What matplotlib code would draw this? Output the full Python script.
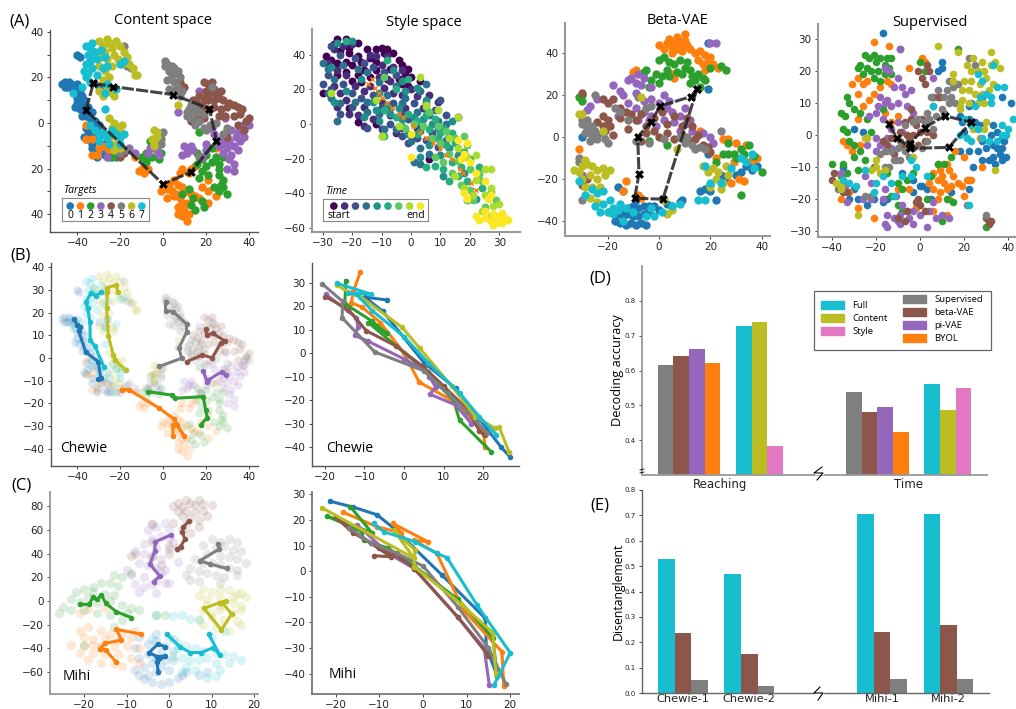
import matplotlib
matplotlib.use("Agg")
import matplotlib.pyplot as plt
from matplotlib.lines import Line2D
from matplotlib.patches import Patch, Rectangle

plt.rcParams['font.family'] = ['DejaVu Sans']
W, H = 1016, 709

tab = ['#1f77b4', '#ff7f0e', '#2ca02c', '#9467bd', '#8c564b', '#7f7f7f', '#bcbd22', '#17becf']
pink = '#e377c2'
time_cols = ['#440154', '#472d7b', '#3b528b', '#2c728e', '#21908c', '#27ad81', '#5ec962', '#addc30', '#fde725']

# ---- content space (used in A and B), one list per target
content = [
    [(-47,17),(-46,18),(-45,16),(-44,18),(-43,17),(-42,15),(-41,16),(-40,17),(-44,16),(-46,16),(-41,13),(-39,14),(-40,11),(-38,12),(-40,9),(-38,8),(-37,10),(-41,7),(-39,6),(-37,5),(-35,7),(-33,5),(-36,3),(-38,3),(-34,2),(-32,1),(-30,-1),(-33,-1),(-36,-2),(-35,-5),(-33,-4),(-30,-6),(-28,-9),(-26,-11),(-29,-11),(-27,-14),(-25,-15),(-24,-12),(-31,-13),(-33,-9),(-37,-6),(-22,-15),(-30,16),(-27,14),(-26,17),(-40,30),(-39,29),(-36,-7),(-33,-11),(-31,-15)],
    [(0,-28),(2,-29),(4,-30),(3,-27),(5,-25),(7,-27),(9,-28),(11,-30),(13,-31),(15,-32),(17,-33),(6,-31),(8,-33),(9,-35),(7,-37),(11,-35),(10,-38),(12,-40),(9,-41),(11,-43),(7,-40),(5,-32),(2,-33),(-1,-30),(8,-22),(9,-20),(12,-22),(13,-20),(15,-19),(21,-25),(21,-30),(25,-32),(-10,-20),(-9,-22),(-11,-21),(-7,-20),(-13,-15),(-36,-1),(-36,-7),(-33,-7),(-30,-11),(-33,-14),(-28,-10),(-25,-12),(-31,-14),(18,-28),(21,-35),(25,-11)],
    [(16,-13),(18,-16),(20,-14),(23,-11),(25,-15),(16,-18),(18,-21),(20,-19),(23,-17),(26,-18),(28,-15),(17,-24),(21,-23),(26,-23),(28,-25),(24,-28),(26,-30),(28,-28),(26,-20),(12,-29),(14,-33),(18,-34),(19,-37),(15,-38),(13,-36),(9,-31),(-1,-13),(-4,-11),(-7,-14),(-8,-13),(-10,-15),(-2,-16),(-5,-15),(-8,-17),(-24,-15),(17,-4),(39,0),(30,-31),(27,-27),(-6,-8)],
    [(24,-5),(27,-7),(29,-5),(32,-3),(35,-4),(38,-1),(40,-1),(37,-3),(34,-6),(31,-8),(28,-9),(26,-10),(30,-11),(33,-10),(36,-8),(28,-13),(32,-14),(35,-12),(38,-6),(33,-18),(31,-16),(30,-20),(33,-21),(10,-10),(12,-12),(11,-13),(14,-12),(13,-10),(9,-14),(18,-15),(20,-12),(17,1),(17,14),(7,5),(20,-9),(-16,-11),(-13,-13),(-6,-11),(-3,-12),(-7,-13),(-2,-14),(-26,-15),(29,2),(23,-2)],
    [(19,18),(21,17),(23,18),(24,15),(20,14),(22,13),(25,13),(27,14),(17,12),(19,11),(16,9),(14,10),(18,8),(21,10),(24,10),(26,11),(28,10),(31,9),(33,8),(35,7),(37,6),(30,7),(27,6),(24,7),(21,6),(18,6),(16,3),(19,2),(26,3),(29,3),(33,3),(36,4),(39,1),(40,2),(35,-1),(13,1),(10,16),(8,18),(-18,-13),(-20,-15),(-4,-7),(-31,-4),(30,-6),(38,-3)],
    [(1,27),(1,25),(2,26),(3,23),(4,25),(5,24),(6,22),(7,23),(8,20),(4,21),(5,18),(2,19),(6,17),(3,15),(5,14),(7,16),(9,14),(8,12),(11,5),(12,6),(14,4),(13,8),(15,7),(17,5),(11,3),(13,2),(15,-1),(17,1),(19,4),(22,-1),(25,0),(23,16),(19,-2),(-18,34),(-17,25),(-15,24),(-1,-5),(0,-4),(-1,-7),(-20,-13),(-17,-12),(-1,-9),(20,-3),(30,-2),(28,-5),(17,-15)],
    [(-30,36),(-28,34),(-26,37),(-25,35),(-24,33),(-27,31),(-29,29),(-26,28),(-23,30),(-22,36),(-20,34),(-18,31),(-21,28),(-19,26),(-17,29),(-16,26),(-24,25),(-27,23),(-30,25),(-32,31),(-14,24),(-13,21),(-12,21),(-25,20),(-28,19),(-26,15),(-28,12),(-24,13),(-23,12),(-30,14),(-25,2),(-23,0),(-24,-2),(-21,-2),(-20,-4),(-19,-1),(-22,-5),(-25,-7),(-22,-9),(-20,-11),(-23,-12),(-3,-6),(-5,-7),(-4,-9),(-4,-10),(-3,-4),(7,8),(-4,-3)],
    [(-36,34),(-34,33),(-33,35),(-32,31),(-35,30),(-33,29),(-31,28),(-36,26),(-34,27),(-29,32),(-27,29),(-26,25),(-20,26),(-18,27),(-37,23),(-35,22),(-33,24),(-36,20),(-34,18),(-38,16),(-31,21),(-28,24),(-26,17),(-22,15),(-27,13),(-27,6),(-42,13),(-34,-1),(-32,-3),(-30,-5),(-28,-4),(-26,-6),(-24,-3),(-22,-5),(-20,-6),(-18,-5),(-20,-9),(-30,-8),(-25,-9)],
]
content_traj = [(-32.5,17.5),(-23.5,16),(4.5,12.5),(21.7,6.3),(25,-7.7),(13,-21.5),(0,-26.8),(-36,5.6),(-32.5,17.5)]

# ---- style space, one list per time bin
style = [
    [(-25,49),(-22,49),(-26,46),(-21,44),(-18,47),(-24,42),(-21,41),(-18,39),(-15,43),(-12,43),(-10,44),(-8,43),(-9,41),(-6,41),(-4,37),(-3,34),(-1,32),(-2,29),(0,27),(-29,39),(-27,37),(-25,35),(-22,36),(-20,34),(-17,36),(-14,38),(-12,36),(-22,30),(-25,28),(-18,28),(-16,31),(-20,25),(-17,24),(-14,27),(-4,26),(-3,23),(-1,22),(3,25),(-30,18),(-21,9),(-18,1),(-12,0),(-7,5),(6,-20),(16,4),(-7,32),(-12,31),(-8,26)],
    [(-26,43),(-23,45),(-20,46),(-14,40),(-12,39),(-8,39),(-10,34),(-6,33),(-3,31),(-28,35),(-25,31),(-22,28),(-19,22),(-16,19),(-14,22),(-11,27),(-9,21),(-7,25),(-6,18),(-3,17),(0,20),(2,16),(6,17),(-26,22),(-24,18),(-22,14),(-25,10),(-21,6),(-18,5),(-16,-1),(-13,3),(-10,-3),(-5,-5),(-3,-2),(2,-2),(-2,9),(4,9),(9,13),(-16,10),(-10,13)],
    [(-27,45),(-24,40),(-19,38),(-16,35),(-13,33),(-9,30),(-5,28),(-28,28),(-30,23),(-27,20),(-23,23),(-20,18),(-17,15),(-13,17),(-10,10),(-6,12),(-3,6),(1,12),(5,12),(8,8),(10,14),(12,5),(-7,0),(-3,-7),(-1,-11),(2,-8),(5,-9),(7,-5),(9,-13),(-24,6),(-20,10),(-15,-2),(-1,3)],
    [(-28,32),(-26,26),(-23,34),(-18,32),(-30,35),(-27,15),(-24,12),(-28,18),(-15,30),(-11,24),(-8,17),(-5,22),(-2,15),(3,19),(5,23),(-19,13),(-15,7),(-11,6),(-7,9),(-3,12),(2,7),(6,5),(9,2),(12,0),(-9,-3),(-5,-3),(0,-10),(3,-14),(6,-17),(1,-22),(3,-23),(9,-2),(12,-9),(-25,2),(-15,13)],
    [(-25,47),(-20,48),(-27,33),(-22,19),(-26,13),(-17,26),(-13,13),(-11,18),(-8,11),(-4,9),(-2,19),(2,21),(5,14),(-16,4),(-12,8),(-7,6),(-3,3),(1,4),(4,3),(7,0),(10,-3),(13,-7),(-1,-6),(3,-4),(6,-12),(10,-18),(13,-14),(16,-18),(-6,31),(-11,2),(3,-19),(11,-30),(18,-28),(22,-43),(-3,25),(14,2)],
    [(-22,48),(-8,37),(-5,20),(-1,26),(-9,8),(-5,4),(-1,6),(2,2),(5,5),(8,3),(11,-2),(14,-5),(-3,-1),(2,-6),(6,-3),(9,-8),(12,-12),(15,-11),(18,-16),(8,-24),(11,-26),(14,-22),(17,-25),(20,-20),(13,-33),(16,-30),(19,-33),(23,-25),(24,-37),(19,-44),(-9,-7),(5,-25),(10,-5)],
    [(-9,27),(-2,-2),(1,0),(4,-1),(6,7),(9,-1),(12,-4),(15,-8),(7,-8),(10,-11),(13,-17),(16,-21),(19,-12),(20,-26),(23,-29),(8,-19),(11,-22),(14,-28),(17,-35),(20,-38),(24,-33),(27,-39),(29,-44),(25,-48),(21,-44),(-10,-7),(5,10),(18,-7)],
    [(-27,18),(-12,14),(3,27),(5,11),(9,8),(-4,-1),(16,4),(-10,-7),(13,-8),(16,-14),(19,-19),(22,-18),(25,-26),(27,-26),(22,-32),(25,-41),(28,-47),(18,-39),(21,-41),(24,-50),(27,-53),(30,-46),(15,-30),(18,-37),(27,-37)],
    [(0,-6),(0,-19),(16,-9),(19,-11),(17,-20),(18,-17),(22,-28),(25,-33),(18,-40),(19,-43),(27,-41),(22,-53),(25,-50),(28,-52),(30,-55),(32,-54),(27,-56),(29,-57),(31,-57),(33,-55),(29,-53),(31,-51),(25,-54),(23,-55),(31,-56),(26,-43),(20,-22),(28,-58)],
]
style_trace = [(-14.6,23),(-13.4,26),(-12.3,21),(-11,18),(-10,15),(-8,12),(-6.3,9.4),(-4,6),(-2.7,4),(0.7,-1.3),(3,-4.6),(5.2,-8),(7.5,-11),(9.7,-14),(12,-17.7),(14,-20),(16.5,-26),(17.6,-28),(20.5,-34),(22,-38)]

# ---- beta-VAE
beta = [
    [(-17,-40),(-15,-41),(-13,-42),(-11,-41),(-9,-42),(-7,-41),(-5,-42),(-14,-38),(-12,-37),(-10,-38),(-8,-38),(-6,-37),(-4,-36),(-10,-33),(-8,-34),(-6,-33),(-4,-33),(-2,-33),(0,-35),(-12,-34),(-14,-36),(-16,-37),(-9,-30),(-14,-26),(-16,-24),(3,-32),(5,-33),(8,-31),(9,-30),(18,-25),(20,-26),(16,-26),(24,-18),(26,-20),(30,-18),(32,-17),(34,-14),(36,-16),(38,-14),(35,-12),(-30,0),(19,-8),(20,-23),(22,-30),(19,23),(19,45)],
    [(0,44),(2,42),(3,45),(4,47),(5,43),(6,45),(7,48),(8,46),(9,44),(10,49),(7,42),(5,40),(9,41),(11,44),(12,42),(14,40),(16,41),(18,39),(20,38),(19,36),(21,35),(23,33),(15,37),(17,35),(5,30),(6,28),(-9,32),(-10,31),(18,32),(10,46),(-13,-21),(-14,-26),(-7,-29),(-8,-28),(25,-1),(27,-1),(30,-3),(34,-4),(36,-11),(38,-10),(29,-12),(28,-22),(31,-20),(33,-21),(22,-10),(16,3),(-31,-6)],
    [(0,37),(2,38),(4,36),(6,35),(8,37),(10,33),(11,36),(9,30),(12,32),(13,29),(14,27),(15,30),(7,31),(3,32),(1,29),(-1,30),(0,26),(-3,27),(-4,24),(4,29),(12,26),(17,28),(18,27),(16,24),(-5,32),(-6,31),(-31,19),(-30,20),(-30,17),(20,33),(24,34),(26,32),(27,-3),(29,-8),(32,-6),(35,-4),(25,-8),(27,-8),(30,-10),(33,-8),(37,-9),(40,-17),(32,-28),(22,-12),(-4,-2),(3,-4)],
    [(-11,28),(-12,27),(-8,30),(-9,26),(-7,25),(-6,28),(-3,24),(-14,20),(-15,22),(-12,16),(-9,14),(-6,12),(-3,18),(0,16),(3,14),(5,12),(8,10),(10,14),(12,8),(-4,8),(-1,5),(2,8),(6,7),(10,6),(13,3),(-8,8),(-18,25),(-27,15),(-28,13),(-3,10),(17,2),(20,0),(21,-3),(-24,18),(-30,-18),(-16,10),(-9,21),(-6,17),(20,45),(22,45),(8,3),(2,20),(4,17)],
    [(-30,21),(-22,18),(-20,16),(-18,18),(-15,14),(-13,12),(-15,9),(-11,11),(-9,8),(-7,11),(-5,5),(-2,9),(1,12),(3,6),(6,10),(9,5),(11,9),(13,5),(15,1),(-2,3),(0,0),(3,2),(6,-1),(9,1),(12,-2),(14,-1),(17,-4),(20,-7),(-22,10),(-20,8),(-24,7),(-22,5),(-19,5),(-21,3),(-18,1),(-12,4),(-30,-23),(-28,-20),(-5,2),(19,-5),(-7,-2)],
    [(-25,20),(-17,14),(-15,12),(-12,8),(-28,8),(-28,5),(-26,5),(-25,3),(-27,2),(-29,2),(-24,1),(-22,2),(-26,-1),(-24,-1),(-21,-1),(-20,-3),(-27,-2),(-28,4),(-30,8),(-31,-10),(-31,-12),(-30,-30),(11,0),(13,-4),(16,-5),(10,-3),(14,-6),(18,-6),(24,3),(8,0),(-4,-3),(2,-1),(-5,14),(-3,15),(-9,-2),(-8,19),(-30,6)],
    [(-31,11),(-30,11),(-31,-17),(-33,-16),(-30,-14),(-28,-13),(-29,-11),(-26,-14),(-24,-16),(-22,-15),(-30,-20),(-27,-18),(-24,-20),(-21,-18),(-19,-16),(-29,-24),(-26,-24),(-23,-24),(-27,-29),(-24,-31),(-20,-36),(-17,-35),(5,-35),(3,-37),(2,-30),(17,-14),(19,-17),(21,-15),(23,-17),(22,-20),(20,-24),(24,-25),(25,-22),(27,-18),(26,-14),(-7,19),(-22,3),(7,-6)],
    [(-31,-21),(-29,-28),(-26,-25),(-24,-27),(-22,-26),(-25,-33),(-22,-32),(-20,-36),(-23,-36),(-18,-37),(-16,-35),(-19,-30),(-18,-34),(-15,-32),(-14,-40),(-10,-36),(-5,-38),(-2,-38),(1,-36),(5,-33),(8,-32),(18,-14),(20,-22),(24,-22),(28,-15),(32,-10),(34,-12),(36,-8),(37,-15),(15,-30),(-13,-34),(-3,-34),(18,-30)],
]
beta_traj = [(14.8,23),(12.4,19.3),(0.5,14.8),(-3.1,7.3),(-8.3,0),(-7.8,-17.7),(-9.5,-29.3),(1.5,-29.8),(14.8,23)]

# ---- supervised
superv = [
    [(-17,32),(-9,27),(10,23),(10,21),(8,20),(22,9),(23,10),(28,12),(37,12),(41,10),(18,6),(22,5),(25,4),(27,3),(33,3),(35,1),(32,0),(37,-1),(19,4),(20,1),(28,-2),(30,-4),(33,-3),(35,-4),(37,-4),(38,-2),(36,-6),(33,-7),(34,-9),(37,-8),(39,-7),(31,-8),(26,-5),(22,-5),(18,-5),(24,-10),(28,-8),(-35,-10),(-28,-20),(-32,-20),(-30,-17),(-8,-12),(-3,-14),(0,-16),(3,-17),(-3,-18),(1,-16),(-15,-20),(-21,-20),(-24,-22),(-17,-21),(22,-14),(22,-17),(14,-18),(5,-20),(-2,-23),(31,-27),(-26,1),(-30,2)],
    [(-21,29),(-14,28),(-24,17),(-28,18),(-26,16),(-31,16),(-28,13),(-26,9),(-23,11),(-18,15),(-15,17),(-13,16),(-21,13),(-16,7),(-13,4),(-10,6),(-28,5),(-35,-2),(-33,-3),(-31,-5),(-27,-3),(-36,-20),(-32,-18),(-28,-23),(-10,-17),(1,24),(2,23),(-5,21),(-15,-5),(8,-9),(9,-11),(10,-13),(12,-9),(13,-11),(11,-15),(8,-14),(6,-12),(15,-13),(14,-16),(9,-18),(12,-17),(6,-17),(17,-15),(19,-16),(21,-14),(13,-20),(8,-20),(4,-15),(23,-14),(20,-19),(-5,-17),(-21,-26),(-2,-23),(6,-24),(12,-25),(28,-10),(27,-1),(20,-7),(16,-5)],
    [(-27,22),(-25,25),(-23,24),(-21,25),(-20,23),(-18,24),(-16,22),(-14,21),(-24,21),(-22,20),(-19,20),(-16,19),(-13,19),(-21,18),(-18,17),(-28,21),(-26,19),(-15,24),(-13,24),(-33,12),(-32,10),(-30,8),(-36,7),(-34,6),(-27,7),(-24,5),(-35,2),(-33,1),(-22,1),(-17,8),(-32,-2),(-30,-3),(-27,-5),(-35,-9),(-30,-7),(-40,-9),(-36,-13),(-33,-12),(-28,-11),(-25,-8),(-15,-12),(-10,-15),(-8,-17),(-6,-14),(-3,-12),(5,-13),(8,-9),(11,-9),(14,-7),(-13,-19),(-10,-22),(-8,-24),(3,-20),(12,-20),(15,-21),(17,27),(0,23),(2,20),(-7,-3),(30,-29),(31,-28),(10,-27)],
    [(-9,27),(-16,21),(-10,18),(-14,20),(-12,15),(-8,15),(-7,13),(-18,12),(-15,11),(-19,9),(-16,10),(-13,9),(-10,10),(-4,14),(6,18),(-6,9),(-3,7),(-20,7),(-17,5),(-10,4),(-13,2),(-23,6),(-8,1),(-20,-1),(-18,-3),(-15,-1),(-13,-4),(-20,-5),(-24,-3),(-11,-8),(-36,-12),(-34,-16),(-25,-13),(-22,-15),(-16,-17),(-22,-20),(-11,-19),(-8,-22),(-5,-26),(-3,-24),(0,-25),(4,-24),(7,-26),(10,-25),(13,-26),(-6,-24),(-9,-25),(-12,-26),(-15,-25),(-10,-27),(-16,-28),(-15,-29),(-9,-28),(3,-29),(-3,-28),(6,-21),(-33,-21),(-26,-20),(-17,-20)],
    [(-1,20),(1,18),(2,16),(6,12),(8,12),(9,12),(-4,8),(-4,5),(-2,3),(1,5),(3,4),(-7,4),(-9,1),(-6,0),(-3,0),(0,1),(3,1),(6,0),(-5,-2),(-1,-3),(2,-2),(-8,-3),(-13,-1),(-15,-3),(-17,-2),(-12,-6),(-40,-14),(-39,-12),(-35,-18),(-33,-18),(-21,-10),(-2,-21),(0,-22),(-1,-20),(2,-24),(-10,-26),(-7,-27),(-6,-24),(30,-26),(31,-28),(32,-27),(4,20),(3,22)],
    [(6,9),(5,12),(10,8),(13,17),(15,15),(17,16),(12,14),(8,14),(11,12),(14,12),(16,10),(13,10),(11,7),(3,7),(7,6),(2,4),(4,5),(-1,5),(-3,4),(6,2),(3,-2),(-3,-4),(1,-4),(-7,-5),(-10,-4),(-13,-5),(-16,-5),(-18,-6),(-5,-7),(-9,-8),(-12,-8),(-14,-10),(-7,3),(-9,-2),(-16,-10),(22,24),(25,22),(-37,-17),(-35,-15),(21,-22),(-25,-19),(-22,-19),(30,-25)],
    [(8,28),(17,26),(32,26),(28,23),(24,24),(21,22),(23,20),(26,20),(29,20),(32,22),(34,23),(36,21),(15,19),(15,17),(20,17),(23,17),(27,16),(30,18),(33,16),(19,14),(22,14),(25,13),(28,13),(31,14),(19,11),(22,10),(26,10),(18,8),(29,10),(30,4),(29,2),(-3,-7),(34,-11),(-22,-11),(-20,-10),(-18,-12),(-16,-11),(-36,-16),(-38,-15),(-35,-14),(-36,-17),(-20,-8),(-25,-1),(-24,-1),(-28,-25),(24,2),(18,9)],
    [(26,19),(28,17),(33,22),(35,15),(38,15),(30,13),(32,12),(27,12),(25,9),(6,9),(20,5),(23,3),(18,0),(21,-1),(23,-2),(26,2),(28,-1),(31,-2),(37,3),(40,2),(42,5),(39,0),(-25,-11),(-17,-13),(-13,-15),(-20,-15),(-35,-14),(-32,-15),(-8,-13),(-4,-13),(-2,-10),(-29,-16),(-12,-19),(-21,-18),(22,-22),(32,10),(37,0),(35,-2),(-4,-8),(3,-13)],
]
superv_traj = [(-14.2,3.4),(-10.4,-1),(-4.7,-3.9),(-4.7,-2.8),(2.1,2.3),(11.2,6),(23,4),(13,-3.9),(-4.7,-4.2)]

# ---- Mihi content space background
mihi_bg = [
    [(-8,-58),(-6,-56),(-7,-62),(-5,-62),(-3,-60),(-6,-66),(-4,-68),(-2,-70),(0,-68),(2,-65),(3,-62),(-4,-52),(-2,-56),(0,-58),(-7,-48),(-5,-45),(-3,-48),(-1,-50),(1,-50),(-5,-36),(-3,-34),(-1,-38),(1,-42),(-2,-43),(4,-60),(7,-62),(9,-60),(-7,-30),(-3,-28),(1,-32),(-8,-40)],
    [(-21,-25),(-19,-22),(-16,-25),(-14,-28),(-11,-28),(-8,-25),(-20,-30),(-18,-32),(-15,-32),(-12,-33),(-9,-31),(-23,-37),(-20,-38),(-18,-37),(-16,-38),(-13,-38),(-10,-38),(-7,-40),(-21,-44),(-18,-44),(-15,-45),(-12,-45),(-9,-48),(-19,-50),(-16,-52),(-13,-53),(-11,-55),(-7,-52),(-21,-10),(-19,-7),(-15,-6)],
    [(-11,20),(-9,24),(-13,22),(-14,15),(-12,13),(-16,15),(-18,12),(-20,10),(-22,8),(-18,8),(-15,6),(-13,5),(-19,3),(-17,-2),(-14,0),(-11,-3),(-9,-6),(-23,2),(-21,-1),(-25,-5),(-23,-8),(-26,-10),(-20,-8),(-17,-10),(-14,-12),(-10,-10),(-7,-8),(-11,-16),(-3,-12),(-1,-12),(-13,-22),(-20,-37),(-16,-40)],
    [(-4,65),(-5,60),(-3,62),(-1,66),(0,60),(-2,55),(-4,52),(0,53),(1,50),(-6,48),(-3,45),(0,44),(-8,42),(-6,40),(-4,38),(-2,35),(-7,32),(-5,30),(-3,28),(-1,26),(-10,26),(-9,22),(-6,20),(-3,17),(-8,14),(-6,12),(-4,14),(-1,15),(0,15),(-7,8),(-3,7),(-2,24),(2,33)],
    [(1,80),(2,83),(3,79),(4,85),(5,83),(6,81),(7,85),(8,82),(10,81),(2,76),(4,76),(6,75),(8,76),(3,72),(5,70),(4,65),(7,68),(9,72),(7,62),(3,60),(1,66),(-4,65),(-4,50),(-8,40),(-4,37),(-9,38),(0,46),(0,40),(2,45),(5,57),(-2,30)],
    [(10,52),(12,50),(14,52),(16,50),(8,47),(11,45),(13,46),(15,43),(17,42),(9,40),(12,38),(14,37),(16,35),(18,32),(6,35),(8,32),(10,32),(12,30),(14,28),(16,26),(5,28),(7,25),(9,24),(11,22),(13,20),(5,18),(7,17),(16,22),(4,22),(12,15)],
    [(8,10),(10,8),(12,10),(14,9),(16,6),(17,7),(18,3),(15,3),(12,3),(9,2),(7,4),(9,-3),(12,-4),(15,-2),(17,-4),(8,-8),(10,-10),(12,-8),(15,-10),(17,-8),(7,-15),(10,-14),(13,-16),(16,-17),(17,-20),(8,-20),(11,-22),(14,-25)],
    [(0,-30),(2,-35),(4,-38),(6,-40),(8,-42),(1,-46),(3,-48),(5,-50),(7,-50),(9,-48),(11,-52),(13,-45),(15,-46),(17,-50),(14,-52),(11,-44),(3,-12),(5,-15),(7,-16),(1,-13),(-3,-12),(-4,-32),(4,-56),(6,-58),(9,-65),(11,-63),(12,-58),(2,-40),(10,-30),(13,-25),(3,-60)],
]

# ---- single trajectories, one per target
chewie_content = [
    [(-41.6,17),(-40,14.5),(-38.8,13.8),(-39.4,11.9),(-36,2.5),(-30.2,-1.6),(-29.1,-8.9),(-30.5,-9.4)],
    [(-19,-13.9),(-15.7,-14),(-1.7,-22.1),(5.1,-26.8),(9.8,-34.3),(6.4,-29.4),(4.5,-29.4),(4.8,-34.3)],
    [(-6.9,-14.8),(4,-16.3),(5.6,-17.7),(18.8,-17),(19.9,-22.8),(20.7,-26.2),(17.6,-29.4)],
    [(18.8,-5.7),(20.7,-10.7),(21.2,-9.7),(27.4,-6),(29.4,-7.5)],
    [(19.9,12.7),(20.4,10.1),(23.2,10.8),(29,7.5),(26.9,6.4),(23,0.1),(18.4,1.3),(11,-1.6)],
    [(1.2,24.5),(1.2,20.8),(4.8,20.4),(11,15),(11,11.3),(7.5,4.5),(8.7,-0.1),(-1.7,-3.7)],
    [(-20.9,29.1),(-22,32),(-26.3,31),(-26,29),(-26.3,21.8),(-25.5,9.8),(-23.2,1.3),(-22.4,-0.9),(-17.3,-5.4)],
    [(-28.8,29),(-31.3,27.4),(-33.5,28.8),(-36,24.7),(-35.2,22),(-34.1,15.7),(-34,8),(-31.8,5.3),(-27.6,-3.8)],
]
chewie_style = [
    [(-4.4,22.6),(-9.9,23.8),(-5.3,17.7),(5,-4),(13,-15),(19,-28),(24.5,-40),(26.8,-44.2)],
    [(-11,34.5),(-12.8,26.2),(-13.3,21.3),(-10.5,19.5),(-6,13),(0,0),(3.8,-12.3),(13,-21),(20,-34),(20.5,-40)],
    [(-14.7,30.8),(-14.9,21),(-8,13.5),(-4.4,8.5),(-9,13),(3,-4),(12.5,-20),(14,-28.5),(22,-42)],
    [(-19.7,25),(-12,15),(-11.6,11),(-12.4,7.5),(-9,5),(0,-2.5),(6,-8),(6.4,-10),(8,-14.5),(6.5,-17.5),(13,-22),(17,-30)],
    [(-19.8,24),(-14,18.5),(-9.5,9.5),(-2,3),(5,-6),(10,-14),(16,-24),(19,-33),(20.5,-35)],
    [(-20.6,29.4),(-15.5,22),(-15.6,15),(-7.4,0.5),(5,-7.5),(11,-17),(16,-25),(21,-34)],
    [(-17,29),(-14,26),(-11,24),(-0.5,11),(4,2),(12,-14),(18,-27),(23,-32),(24,-31.5),(26.5,-42)],
    [(-17,29.7),(-8.2,25),(-14,25.5),(-12,25),(-8,18),(0,7),(6,-4),(14,-17),(19,-27),(23.3,-34.7)],
]
mihi_content = [
    [(-2.6,-59.6),(-2.8,-51.7),(-0.9,-46.3),(-2.8,-46.9),(-4.7,-43.5),(-2.6,-36.2),(-1,-38.5)],
    [(-6.7,-27.8),(-12.4,-23.9),(-11.2,-32.9),(-15.1,-35.7),(-16.3,-40.7),(-14.9,-41.3),(-12.4,-51.7)],
    [(-20.9,-2.8),(-18.8,-2.8),(-17.9,3.1),(-16.9,1.4),(-15.9,5.1),(-14.9,-2),(-12.4,-9),(-8.9,-14)],
    [(0.4,55.6),(-3.2,50),(-3.4,42),(-4.5,31.2),(-2.2,21),(-3.6,16.3)],
    [(4.6,67.4),(3.3,62),(3.1,58.4),(3.7,52.2),(2.7,45.8),(1.9,43.5)],
    [(11.4,48),(11.8,43.8),(7.2,34),(9.6,31.2),(13.5,27.5)],
    [(13.3,0),(11.9,-1.4),(8.2,-6.2),(12.3,-24.4),(14.7,-11),(12.5,-1.4),(11.9,-1.4)],
    [(-0.6,-27.8),(2.5,-38.5),(5,-43.5),(7.5,-43.5),(10.4,-39.3),(11.9,-45.5),(9.3,-27.8)],
]
mihi_style = [
    [(-21.3,27.3),(-16,25),(-10.5,22),(-6.5,16.5),(4.4,-1.6),(14.3,-18.5),(14.5,-29.6),(17,-41)],
    [(-18.3,23),(-10.5,17.3),(-5,15),(-6.9,18.6),(1.1,11.5),(-2,12),(3.2,6.9),(9.3,-15.2),(18.1,-31.5),(18.5,-45)],
    [(-16.6,25.1),(-11.7,15),(-22,21.5),(-14,15.5),(-13.6,12.1),(-8,9),(-2,2),(8,-11),(16,-26),(17,-41)],
    [(-15,18),(-8,7),(-2,1),(8,-18),(14,-30),(15.2,-44.5)],
    [(-11.1,6),(-7.3,5.6),(-12,11),(-20,21),(-16,15),(-10,9),(-5,5),(-2,1),(8,-18),(15,-33)],
    [(-17,17),(-12,11),(-6,7),(0,2),(8,-14),(15,-30),(19,-44)],
    [(-23.1,24.7),(-2,5),(-6.7,16),(-1.8,8.2),(-2,1.7),(8.8,-13),(16,-24),(16.7,-40)],
    [(-11.3,18.6),(-9,15.4),(-1.8,11.5),(3.2,6.9),(5.5,5.3),(12.4,-13.3),(20,-31.9),(16.3,-44.5)],
]

# ---- bar panels
d_names = ['Supervised', 'beta-VAE', 'pi-VAE', 'BYOL', 'Full', 'Content', 'Style']
d_colors = ['#7f7f7f', '#8c564b', '#9467bd', '#ff7f0e', '#17becf', '#bcbd22', pink]
d_reaching = [0.616, 0.643, 0.663, 0.621, 0.728, 0.738, 0.383]
d_time = [0.538, 0.482, 0.496, 0.424, 0.561, 0.488, 0.55]
e_labels = ['Chewie-1', 'Chewie-2', 'Mihi-1', 'Mihi-2']
e_full = [0.53, 0.47, 0.705, 0.707]
e_beta = [0.235, 0.153, 0.24, 0.268]
e_super = [0.05, 0.028, 0.055, 0.057]


def px_ax(l, t, r, b):
    return fig.add_axes([l / W, 1 - b / H, (r - l) / W, (b - t) / H])


def fx(x):
    return x / W


def fy(y):
    return 1 - y / H


def style_ax(ax, xlim, ylim, xt, yt, xl=None, yl=None, col='#555555', lw=1.0, fs=7.5):
    ax.set_xlim(xlim)
    ax.set_ylim(ylim)
    ax.set_xticks(xt)
    ax.set_yticks(yt)
    if xl is not None:
        ax.set_xticklabels(xl)
    if yl is not None:
        ax.set_yticklabels(yl)
    ax.spines['top'].set_visible(False)
    ax.spines['right'].set_visible(False)
    ax.spines['left'].set_color(col)
    ax.spines['bottom'].set_color(col)
    ax.spines['left'].set_linewidth(lw)
    ax.spines['bottom'].set_linewidth(lw)
    ax.tick_params(labelsize=fs, length=2.5, width=0.6, pad=2, colors='#222222')
    ax.patch.set_alpha(0)


def cloud(ax, groups, colors, alpha=1.0, s=36):
    for pts, c in zip(groups, colors):
        ax.scatter([p[0] for p in pts], [p[1] for p in pts], s=s, color=c, alpha=alpha, linewidths=0)


def black_traj(ax, pts):
    x = [p[0] for p in pts]
    y = [p[1] for p in pts]
    ax.plot(x, y, color='#222222', lw=2.2, ls=(0, (4, 0.7)), alpha=0.85, zorder=5)
    ax.scatter(x, y, marker='X', s=40, color='black', linewidths=0, zorder=6)


def color_trajs(ax, trajs, lw=2.2):
    for pts, c in zip(trajs, tab):
        ax.plot([p[0] for p in pts], [p[1] for p in pts], color=c, lw=lw, marker='o', ms=3,
                solid_joinstyle='round', zorder=4)


def label(x, y, s, size=10.5, **kw):
    fig.text(fx(x), fy(y), s, fontsize=size, family='Open Sans', ha=kw.pop('ha', 'center'), va=kw.pop('va', 'center'), **kw)


fig = plt.figure(figsize=(W / 100, H / 100), dpi=100)

# row A
ax1 = px_ax(50, 30, 258, 232)
style_ax(ax1, (-52.8, 44.4), (-47.8, 40.8), [-40, -20, 0, 20, 40],
         [-40, -30, -20, -10, 0, 10, 20, 30, 40], yl=['40', '', '20', '', '0', '', '20', '', '40'])
cloud(ax1, content, tab)
black_traj(ax1, content_traj)

ax2 = px_ax(312, 29, 520, 232)
style_ax(ax2, (-33.6, 37), (-62.2, 54.8), [-30, -20, -10, 0, 10, 20, 30], [-60, -40, -20, 0, 20, 40], col='#999999', lw=1.5)
cloud(ax2, style, time_cols, s=32)
ax2.scatter([p[0] for p in style_trace], [p[1] for p in style_trace], marker='x', s=10, color='#ff7f0e', linewidths=1.0, zorder=5)

ax3 = px_ax(565, 23, 770, 236)
style_ax(ax3, (-36.6, 43.2), (-47.4, 54.5), [-20, 0, 20, 40], [-40, -20, 0, 20, 40], col='#999999', lw=1.5)
cloud(ax3, beta, tab)
black_traj(ax3, beta_traj)

ax4 = px_ax(818, 24, 1016, 237)
style_ax(ax4, (-46.2, 43.4), (-32, 34.8), [-40, -20, 0, 20, 40], [-30, -20, -10, 0, 10, 20, 30], col='#999999', lw=1.5)
cloud(ax4, superv, tab, s=30)
black_traj(ax4, superv_traj)

# row B
ax5 = px_ax(51, 263, 258, 466)
style_ax(ax5, (-52.3, 44.4), (-47.5, 41.8), [-40, -20, 0, 20, 40], [-40, -30, -20, -10, 0, 10, 20, 30, 40])
cloud(ax5, content, tab, alpha=0.17)
color_trajs(ax5, chewie_content)

ax6 = px_ax(312, 263, 519, 466)
style_ax(ax6, (-23.2, 29), (-48, 38.3), [-20, -10, 0, 10, 20], [-40, -30, -20, -10, 0, 10, 20, 30])
color_trajs(ax6, chewie_style)

# row C
ax7 = px_ax(50, 492, 258, 694)
style_ax(ax7, (-28, 20.9), (-78.4, 91.9), [-20, -10, 0, 10, 20], [-60, -40, -20, 0, 20, 40, 60, 80], col='#999999', lw=1.3)
cloud(ax7, mihi_bg, tab, alpha=0.17, s=44)
color_trajs(ax7, mihi_content)

ax8 = px_ax(312, 492, 519, 694)
style_ax(ax8, (-25.4, 22), (-48, 30.9), [-20, -10, 0, 10, 20], [-40, -30, -20, -10, 0, 10, 20, 30], col='#777777', lw=1.3)
color_trajs(ax8, mihi_style)

# panel D
ax9 = px_ax(642, 266, 987, 475)
style_ax(ax9, (-1.5, 20.5), (0.3, 0.9), [3.5, 15.5], [0.4, 0.5, 0.6, 0.7, 0.8], xl=['Reaching', 'Time'], col='#999999', lw=1.3, fs=5)
ax9.tick_params(axis='x', labelsize=8.5, length=0, pad=2)
ax9.bar([0, 1, 2, 3, 5, 6, 7], d_reaching, width=1, color=d_colors)
ax9.bar([12, 13, 14, 15, 17, 18, 19], d_time, width=1, color=d_colors)

# panel E
ax10 = px_ax(642, 490, 989, 693)
style_ax(ax10, (-1.46, 19.44), (0, 0.8), [1, 5, 13, 17], [0, 0.1, 0.2, 0.3, 0.4, 0.5, 0.6, 0.7, 0.8], xl=e_labels, col='#666666', lw=1.0, fs=5)
ax10.tick_params(axis='x', labelsize=8.2, length=0, pad=1)
ax10.bar([0, 4, 12, 16], e_full, width=1, color='#17becf')
ax10.bar([1, 5, 13, 17], e_beta, width=1, color='#8c564b')
ax10.bar([2, 6, 14, 18], e_super, width=1, color='#7f7f7f')

# axis breaks
for y0, pts in [(473, [(822, 467), (814, 473), (823, 473), (817, 480)]), (693, [(820, 687), (814, 693), (823, 693), (818, 700)])]:
    fig.add_artist(Rectangle((fx(815), fy(y0 + 1)), 8 / W, 3 / H, transform=fig.transFigure, color='white', zorder=9))
    fig.add_artist(Line2D([fx(p[0]) for p in pts], [fy(p[1]) for p in pts], color='black', lw=0.8, zorder=10))
for yy in (470, 473):
    fig.add_artist(Line2D([fx(640), fx(644)], [fy(yy), fy(yy - 1)], color='black', lw=0.6, zorder=10))

# D legend
left_h = [Patch(color=d_colors[i], label=d_names[i]) for i in (4, 5, 6)]
right_h = [Patch(color=d_colors[i], label=d_names[i]) for i in (0, 1, 2, 3)]
legfont = {'family': 'Open Sans', 'size': 6.8}
fig.add_artist(Rectangle((fx(814), fy(350)), 177 / W, 59 / H, transform=fig.transFigure, fc='white', ec='#666666', lw=0.9, zorder=3))
l1 = fig.legend(handles=left_h, loc='upper left', bbox_to_anchor=(fx(821), fy(301)), frameon=False, prop=legfont,
                labelspacing=0.42, handlelength=2.4, handleheight=0.85, handletextpad=0.9, borderpad=0, borderaxespad=0)
l2 = fig.legend(handles=right_h, loc='upper left', bbox_to_anchor=(fx(903), fy(295)), frameon=False, prop=legfont,
                labelspacing=0.42, handlelength=2.4, handleheight=0.85, handletextpad=0.9, borderpad=0, borderaxespad=0)
l1.set_zorder(4)
l2.set_zorder(4)

# legends in A
lg1 = px_ax(62, 198, 149, 221)
lg1.set_xlim(-0.8, 7.7)
lg1.set_ylim(0, 1)
lg1.set_xticks([])
lg1.set_yticks([])
for sp in lg1.spines.values():
    sp.set_color('#888888')
lg1.scatter(range(8), [0.65] * 8, s=30, c=tab, linewidths=0)
for i in range(8):
    lg1.text(i, 0.22, str(i), ha='center', va='center', fontsize=7.5, family='Open Sans')

lg2 = px_ax(323, 199, 428, 221)
lg2.set_xlim(-1.0, 8.7)
lg2.set_ylim(0, 1)
lg2.set_xticks([])
lg2.set_yticks([])
for sp in lg2.spines.values():
    sp.set_color('#888888')
lg2.scatter(range(9), [0.68] * 9, s=30, c=time_cols, linewidths=0)
lg2.text(0.45, 0.25, 'start', ha='center', va='center', fontsize=7.5, family='Open Sans')
lg2.text(7.6, 0.25, 'end', ha='center', va='center', fontsize=7.5, family='Open Sans')

# titles and labels
label(163, 20, 'Content space')
label(424, 22, 'Style space')
label(678, 21, 'Beta-VAE')
label(930, 22, 'Supervised')
label(20, 22, '(A)', 12)
label(21, 256, '(B)', 12)
label(21, 485, '(C)', 12)
label(600, 278, '(D)', 12)
label(600, 505, '(E)', 12)
label(80, 190, 'Targets', 7.5, style='italic')
label(336, 191, 'Time', 7.5, style='italic')
label(84, 448, 'Chewie', 10)
label(350, 448, 'Chewie', 10)
label(77, 677, 'Mihi', 10)
label(343, 675, 'Mihi', 10)
label(618, 370, 'Decoding accuracy', 9.2, rotation=90)
label(618, 591, 'Disentanglement', 8.8, rotation=90)

fig.savefig('out.png', dpi=100)
